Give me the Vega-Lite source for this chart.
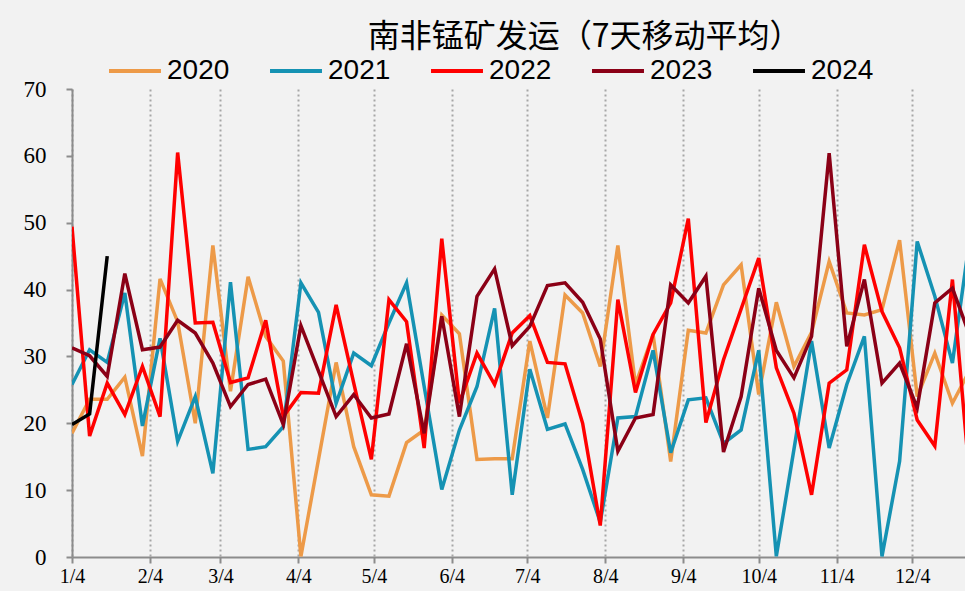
{
  "$schema": "https://vega.github.io/schema/vega-lite/v6.json",
  "width": 893,
  "height": 468,
  "autosize": {"type": "none"},
  "padding": {"left": 72, "top": 89, "right": 0, "bottom": 34},
  "background": "#f2f2f2",
  "title": {
    "text": "南非锰矿发运（7天移动平均）",
    "font": "Noto Sans CJK SC",
    "fontSize": 32,
    "fontWeight": "normal",
    "color": "#000000",
    "anchor": "middle",
    "dx": 66,
    "dy": 43,
    "offset": 32
  },
  "datasets": {
    "ship": [
      {"date":"2001-01-04","year":"2020","value":18.5},{"date":"2001-01-11","year":"2020","value":23.6},{"date":"2001-01-18","year":"2020","value":23.6},{"date":"2001-01-25","year":"2020","value":26.9},{"date":"2001-02-01","year":"2020","value":15.1},{"date":"2001-02-08","year":"2020","value":41.6},{"date":"2001-02-15","year":"2020","value":35.2},{"date":"2001-02-22","year":"2020","value":20.0},{"date":"2001-03-01","year":"2020","value":46.6},{"date":"2001-03-08","year":"2020","value":24.8},{"date":"2001-03-15","year":"2020","value":41.9},{"date":"2001-03-22","year":"2020","value":33.0},{"date":"2001-03-29","year":"2020","value":29.3},{"date":"2001-04-05","year":"2020","value":0.1},{"date":"2001-04-12","year":"2020","value":14.6},{"date":"2001-04-19","year":"2020","value":29.1},{"date":"2001-04-26","year":"2020","value":16.5},{"date":"2001-05-03","year":"2020","value":9.3},{"date":"2001-05-10","year":"2020","value":9.1},{"date":"2001-05-17","year":"2020","value":17.1},{"date":"2001-05-24","year":"2020","value":19.0},{"date":"2001-05-31","year":"2020","value":36.2},{"date":"2001-06-07","year":"2020","value":33.4},{"date":"2001-06-14","year":"2020","value":14.6},{"date":"2001-06-21","year":"2020","value":14.7},{"date":"2001-06-28","year":"2020","value":14.7},{"date":"2001-07-05","year":"2020","value":32.3},{"date":"2001-07-12","year":"2020","value":20.8},{"date":"2001-07-19","year":"2020","value":39.2},{"date":"2001-07-26","year":"2020","value":36.5},{"date":"2001-08-02","year":"2020","value":28.5},{"date":"2001-08-09","year":"2020","value":46.6},{"date":"2001-08-16","year":"2020","value":25.8},{"date":"2001-08-23","year":"2020","value":33.3},{"date":"2001-08-30","year":"2020","value":14.3},{"date":"2001-09-06","year":"2020","value":33.9},{"date":"2001-09-13","year":"2020","value":33.5},{"date":"2001-09-20","year":"2020","value":40.7},{"date":"2001-09-27","year":"2020","value":43.7},{"date":"2001-10-04","year":"2020","value":24.3},{"date":"2001-10-11","year":"2020","value":38.1},{"date":"2001-10-18","year":"2020","value":28.5},{"date":"2001-10-25","year":"2020","value":33.6},{"date":"2001-11-01","year":"2020","value":44.2},{"date":"2001-11-08","year":"2020","value":36.5},{"date":"2001-11-15","year":"2020","value":36.2},{"date":"2001-11-22","year":"2020","value":37.0},{"date":"2001-11-29","year":"2020","value":47.4},{"date":"2001-12-06","year":"2020","value":24.0},{"date":"2001-12-13","year":"2020","value":30.5},{"date":"2001-12-20","year":"2020","value":23.0},{"date":"2001-12-27","year":"2020","value":28.0},
      {"date":"2001-01-04","year":"2021","value":25.8},{"date":"2001-01-11","year":"2021","value":31.0},{"date":"2001-01-18","year":"2021","value":29.1},{"date":"2001-01-25","year":"2021","value":39.5},{"date":"2001-02-01","year":"2021","value":19.6},{"date":"2001-02-08","year":"2021","value":32.7},{"date":"2001-02-15","year":"2021","value":17.3},{"date":"2001-02-22","year":"2021","value":24.0},{"date":"2001-03-01","year":"2021","value":12.5},{"date":"2001-03-08","year":"2021","value":41.1},{"date":"2001-03-15","year":"2021","value":16.1},{"date":"2001-03-22","year":"2021","value":16.5},{"date":"2001-03-29","year":"2021","value":19.5},{"date":"2001-04-05","year":"2021","value":41.0},{"date":"2001-04-12","year":"2021","value":36.6},{"date":"2001-04-19","year":"2021","value":23.0},{"date":"2001-04-26","year":"2021","value":30.5},{"date":"2001-05-03","year":"2021","value":28.6},{"date":"2001-05-10","year":"2021","value":35.0},{"date":"2001-05-17","year":"2021","value":41.0},{"date":"2001-05-24","year":"2021","value":25.5},{"date":"2001-05-31","year":"2021","value":10.1},{"date":"2001-06-07","year":"2021","value":19.0},{"date":"2001-06-14","year":"2021","value":25.5},{"date":"2001-06-21","year":"2021","value":37.2},{"date":"2001-06-28","year":"2021","value":9.3},{"date":"2001-07-05","year":"2021","value":28.1},{"date":"2001-07-12","year":"2021","value":19.1},{"date":"2001-07-19","year":"2021","value":19.9},{"date":"2001-07-26","year":"2021","value":13.1},{"date":"2001-08-02","year":"2021","value":5.2},{"date":"2001-08-09","year":"2021","value":20.8},{"date":"2001-08-16","year":"2021","value":21.0},{"date":"2001-08-23","year":"2021","value":30.9},{"date":"2001-08-30","year":"2021","value":15.6},{"date":"2001-09-06","year":"2021","value":23.5},{"date":"2001-09-13","year":"2021","value":23.8},{"date":"2001-09-20","year":"2021","value":17.0},{"date":"2001-09-27","year":"2021","value":19.0},{"date":"2001-10-04","year":"2021","value":30.9},{"date":"2001-10-11","year":"2021","value":0.1},{"date":"2001-10-18","year":"2021","value":16.1},{"date":"2001-10-25","year":"2021","value":32.3},{"date":"2001-11-01","year":"2021","value":16.3},{"date":"2001-11-08","year":"2021","value":25.8},{"date":"2001-11-15","year":"2021","value":33.0},{"date":"2001-11-22","year":"2021","value":0.1},{"date":"2001-11-29","year":"2021","value":14.3},{"date":"2001-12-06","year":"2021","value":47.2},{"date":"2001-12-13","year":"2021","value":39.0},{"date":"2001-12-20","year":"2021","value":29.0},{"date":"2001-12-27","year":"2021","value":48.0},
      {"date":"2001-01-04","year":"2022","value":49.4},{"date":"2001-01-11","year":"2022","value":18.1},{"date":"2001-01-18","year":"2022","value":26.0},{"date":"2001-01-25","year":"2022","value":21.3},{"date":"2001-02-01","year":"2022","value":28.5},{"date":"2001-02-08","year":"2022","value":21.0},{"date":"2001-02-15","year":"2022","value":60.5},{"date":"2001-02-22","year":"2022","value":35.0},{"date":"2001-03-01","year":"2022","value":35.1},{"date":"2001-03-08","year":"2022","value":26.1},{"date":"2001-03-15","year":"2022","value":26.8},{"date":"2001-03-22","year":"2022","value":35.4},{"date":"2001-03-29","year":"2022","value":21.0},{"date":"2001-04-05","year":"2022","value":24.6},{"date":"2001-04-12","year":"2022","value":24.5},{"date":"2001-04-19","year":"2022","value":37.7},{"date":"2001-04-26","year":"2022","value":26.0},{"date":"2001-05-03","year":"2022","value":14.6},{"date":"2001-05-10","year":"2022","value":38.5},{"date":"2001-05-17","year":"2022","value":35.2},{"date":"2001-05-24","year":"2022","value":16.3},{"date":"2001-05-31","year":"2022","value":47.6},{"date":"2001-06-07","year":"2022","value":23.0},{"date":"2001-06-14","year":"2022","value":30.5},{"date":"2001-06-21","year":"2022","value":25.8},{"date":"2001-06-28","year":"2022","value":33.5},{"date":"2001-07-05","year":"2022","value":36.1},{"date":"2001-07-12","year":"2022","value":29.1},{"date":"2001-07-19","year":"2022","value":28.9},{"date":"2001-07-26","year":"2022","value":20.0},{"date":"2001-08-02","year":"2022","value":4.7},{"date":"2001-08-09","year":"2022","value":38.5},{"date":"2001-08-16","year":"2022","value":24.6},{"date":"2001-08-23","year":"2022","value":33.3},{"date":"2001-08-30","year":"2022","value":38.0},{"date":"2001-09-06","year":"2022","value":50.6},{"date":"2001-09-13","year":"2022","value":20.1},{"date":"2001-09-20","year":"2022","value":29.5},{"date":"2001-09-27","year":"2022","value":37.1},{"date":"2001-10-04","year":"2022","value":44.7},{"date":"2001-10-11","year":"2022","value":28.3},{"date":"2001-10-18","year":"2022","value":21.5},{"date":"2001-10-25","year":"2022","value":9.3},{"date":"2001-11-01","year":"2022","value":26.0},{"date":"2001-11-08","year":"2022","value":28.0},{"date":"2001-11-15","year":"2022","value":46.7},{"date":"2001-11-22","year":"2022","value":36.7},{"date":"2001-11-29","year":"2022","value":31.3},{"date":"2001-12-06","year":"2022","value":20.5},{"date":"2001-12-13","year":"2022","value":16.6},{"date":"2001-12-20","year":"2022","value":41.5},{"date":"2001-12-27","year":"2022","value":11.0},
      {"date":"2001-01-04","year":"2023","value":31.3},{"date":"2001-01-11","year":"2023","value":30.1},{"date":"2001-01-18","year":"2023","value":27.0},{"date":"2001-01-25","year":"2023","value":42.4},{"date":"2001-02-01","year":"2023","value":31.0},{"date":"2001-02-08","year":"2023","value":31.4},{"date":"2001-02-15","year":"2023","value":35.4},{"date":"2001-02-22","year":"2023","value":33.5},{"date":"2001-03-01","year":"2023","value":29.0},{"date":"2001-03-08","year":"2023","value":22.5},{"date":"2001-03-15","year":"2023","value":25.8},{"date":"2001-03-22","year":"2023","value":26.6},{"date":"2001-03-29","year":"2023","value":19.8},{"date":"2001-04-05","year":"2023","value":34.6},{"date":"2001-04-12","year":"2023","value":27.8},{"date":"2001-04-19","year":"2023","value":21.0},{"date":"2001-04-26","year":"2023","value":24.3},{"date":"2001-05-03","year":"2023","value":20.8},{"date":"2001-05-10","year":"2023","value":21.4},{"date":"2001-05-17","year":"2023","value":31.9},{"date":"2001-05-24","year":"2023","value":18.5},{"date":"2001-05-31","year":"2023","value":36.0},{"date":"2001-06-07","year":"2023","value":21.0},{"date":"2001-06-14","year":"2023","value":39.0},{"date":"2001-06-21","year":"2023","value":43.1},{"date":"2001-06-28","year":"2023","value":31.6},{"date":"2001-07-05","year":"2023","value":34.5},{"date":"2001-07-12","year":"2023","value":40.6},{"date":"2001-07-19","year":"2023","value":41.0},{"date":"2001-07-26","year":"2023","value":38.1},{"date":"2001-08-02","year":"2023","value":32.6},{"date":"2001-08-09","year":"2023","value":15.8},{"date":"2001-08-16","year":"2023","value":20.8},{"date":"2001-08-23","year":"2023","value":21.3},{"date":"2001-08-30","year":"2023","value":40.7},{"date":"2001-09-06","year":"2023","value":38.0},{"date":"2001-09-13","year":"2023","value":42.0},{"date":"2001-09-20","year":"2023","value":15.7},{"date":"2001-09-27","year":"2023","value":24.0},{"date":"2001-10-04","year":"2023","value":40.2},{"date":"2001-10-11","year":"2023","value":30.9},{"date":"2001-10-18","year":"2023","value":26.8},{"date":"2001-10-25","year":"2023","value":33.0},{"date":"2001-11-01","year":"2023","value":60.4},{"date":"2001-11-08","year":"2023","value":31.5},{"date":"2001-11-15","year":"2023","value":41.5},{"date":"2001-11-22","year":"2023","value":26.0},{"date":"2001-11-29","year":"2023","value":29.0},{"date":"2001-12-06","year":"2023","value":22.3},{"date":"2001-12-13","year":"2023","value":38.0},{"date":"2001-12-20","year":"2023","value":40.2},{"date":"2001-12-27","year":"2023","value":33.0},
      {"date":"2001-01-04","year":"2024","value":19.8},{"date":"2001-01-11","year":"2024","value":21.4},{"date":"2001-01-18","year":"2024","value":45.0}
    ]
  },
  "data": {"name": "ship"},
  "mark": {"type": "line", "strokeWidth": 3.5, "clip": true},
  "encoding": {
    "x": {
      "field": "date",
      "type": "temporal",
      "scale": {
        "type": "utc",
        "domain": [{"year": 2001, "month": 1, "date": 4, "utc": true}, {"year": 2001, "month": 12, "date": 25, "utc": true}]
      },
      "axis": {
        "title": null,
        "values": [
          {"year": 2001, "month": 1, "date": 4, "utc": true},
          {"year": 2001, "month": 2, "date": 4, "utc": true},
          {"year": 2001, "month": 3, "date": 4, "utc": true},
          {"year": 2001, "month": 4, "date": 4, "utc": true},
          {"year": 2001, "month": 5, "date": 4, "utc": true},
          {"year": 2001, "month": 6, "date": 4, "utc": true},
          {"year": 2001, "month": 7, "date": 4, "utc": true},
          {"year": 2001, "month": 8, "date": 4, "utc": true},
          {"year": 2001, "month": 9, "date": 4, "utc": true},
          {"year": 2001, "month": 10, "date": 4, "utc": true},
          {"year": 2001, "month": 11, "date": 4, "utc": true},
          {"year": 2001, "month": 12, "date": 4, "utc": true}
        ],
        "format": "%-m/%-d",
        "grid": true,
        "gridColor": "#a6a6a6",
        "gridDash": [2, 3],
        "gridWidth": 2,
        "domainColor": "#8c8c8c",
        "domainWidth": 2,
        "tickColor": "#8c8c8c",
        "tickWidth": 2,
        "tickSize": 6,
        "labelFont": "Liberation Serif",
        "labelFontSize": 20,
        "labelColor": "#000000",
        "labelPadding": 3,
        "labelFlush": false,
        "labelOverlap": false
      }
    },
    "y": {
      "field": "value",
      "type": "quantitative",
      "scale": {"domain": [0, 70], "nice": false, "zero": true},
      "axis": {
        "title": null,
        "values": [0, 10, 20, 30, 40, 50, 60, 70],
        "grid": false,
        "domainColor": "#8c8c8c",
        "domainWidth": 2,
        "tickColor": "#8c8c8c",
        "tickWidth": 2,
        "tickSize": 6,
        "labelFont": "Liberation Serif",
        "labelFontSize": 23,
        "labelColor": "#000000",
        "labelPadding": 20
      }
    },
    "color": {
      "field": "year",
      "type": "nominal",
      "scale": {
        "domain": ["2020", "2021", "2022", "2023", "2024"],
        "range": ["#ED9A48", "#1592B3", "#FF0000", "#8B0016", "#000000"]
      },
      "legend": {
        "title": null,
        "orient": "none",
        "direction": "horizontal",
        "legendX": 35,
        "legendY": -46,
        "symbolType": "stroke",
        "symbolSize": 2700,
        "symbolStrokeWidth": 4,
        "labelFont": "Liberation Sans",
        "labelFontSize": 28,
        "labelColor": "#000000",
        "labelOffset": 4,
        "columnPadding": 32
      }
    }
  },
  "config": {"view": {"stroke": null}}
}
